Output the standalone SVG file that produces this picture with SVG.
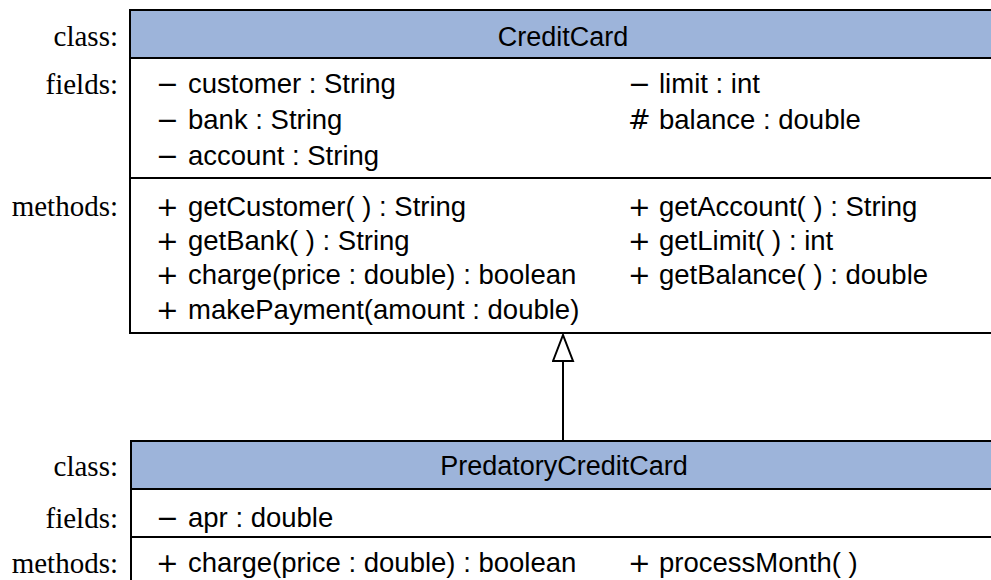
<svg xmlns="http://www.w3.org/2000/svg" width="991" height="580" viewBox="0 0 991 580">
<style>
.box{fill:#ffffff;stroke:#000;stroke-width:2}
.hdr{fill:#9db4da;stroke:#000;stroke-width:2}
.sep{stroke:#000;stroke-width:2}
.lbl{font-family:"Liberation Serif","Times New Roman",serif;font-size:29px;fill:#000;text-anchor:end}
.t{font-family:"Liberation Sans",Arial,sans-serif;font-size:27.5px;fill:#000}
.s{font-family:"DejaVu Sans","Liberation Sans",sans-serif;font-size:27px}
.title{font-family:"Liberation Sans",Arial,sans-serif;font-size:27px;fill:#000;text-anchor:middle}
.conn{stroke:#000;stroke-width:2;fill:none}
</style>
<defs>
<marker id="tri" markerUnits="userSpaceOnUse" markerWidth="30" markerHeight="24" refX="27" refY="11" orient="auto">
<path d="M1,1 L27,11 L1,21 Z" fill="#fff" stroke="#000" stroke-width="2"/>
</marker>
</defs>
<rect width="991" height="580" fill="#fff"/>
<g id="CreditCard">
<rect class="box" x="130" y="10" width="880" height="323"/>
<rect class="hdr" x="130" y="10" width="880" height="48"/>
<line class="sep" x1="130" y1="178" x2="1010" y2="178"/>
<text class="lbl" x="118" y="46">class:</text>
<text class="lbl" x="118" y="94">fields:</text>
<text class="lbl" x="118" y="216">methods:</text>
<text class="title" x="563" y="46">CreditCard</text>
<text class="t" y="93"><tspan class="s" x="156">−</tspan><tspan x="188">customer : String</tspan></text>
<text class="t" y="129"><tspan class="s" x="156">−</tspan><tspan x="188">bank : String</tspan></text>
<text class="t" y="165"><tspan class="s" x="156">−</tspan><tspan x="188">account : String</tspan></text>
<text class="t" y="93"><tspan class="s" x="628">−</tspan><tspan x="659">limit : int</tspan></text>
<text class="t" y="129"><tspan class="s" x="628">#</tspan><tspan x="659">balance : double</tspan></text>
<text class="t" y="216"><tspan class="s" x="156">+</tspan><tspan x="188">getCustomer( ) : String</tspan></text>
<text class="t" y="250"><tspan class="s" x="156">+</tspan><tspan x="188">getBank( ) : String</tspan></text>
<text class="t" y="284"><tspan class="s" x="156">+</tspan><tspan x="188">charge(price : double) : boolean</tspan></text>
<text class="t" y="319"><tspan class="s" x="156">+</tspan><tspan x="188">makePayment(amount : double)</tspan></text>
<text class="t" y="216"><tspan class="s" x="628">+</tspan><tspan x="659">getAccount( ) : String</tspan></text>
<text class="t" y="250"><tspan class="s" x="628">+</tspan><tspan x="659">getLimit( ) : int</tspan></text>
<text class="t" y="284"><tspan class="s" x="628">+</tspan><tspan x="659">getBalance( ) : double</tspan></text>
</g>
<g id="PredatoryCreditCard">
<rect class="box" x="131" y="441" width="880" height="160"/>
<rect class="hdr" x="131" y="441" width="880" height="48"/>
<line class="sep" x1="131" y1="537" x2="1011" y2="537"/>
<text class="lbl" x="118" y="476">class:</text>
<text class="lbl" x="118" y="528">fields:</text>
<text class="lbl" x="118" y="573">methods:</text>
<text class="title" x="564" y="475">PredatoryCreditCard</text>
<text class="t" y="527"><tspan class="s" x="156">−</tspan><tspan x="188">apr : double</tspan></text>
<text class="t" y="572"><tspan class="s" x="156">+</tspan><tspan x="188">charge(price : double) : boolean</tspan></text>
<text class="t" y="572"><tspan class="s" x="628">+</tspan><tspan x="659">processMonth( )</tspan></text>
</g>
<g id="connectors">
<line class="conn" x1="563" y1="441" x2="563" y2="335" marker-end="url(#tri)"/>
</g>
</svg>
